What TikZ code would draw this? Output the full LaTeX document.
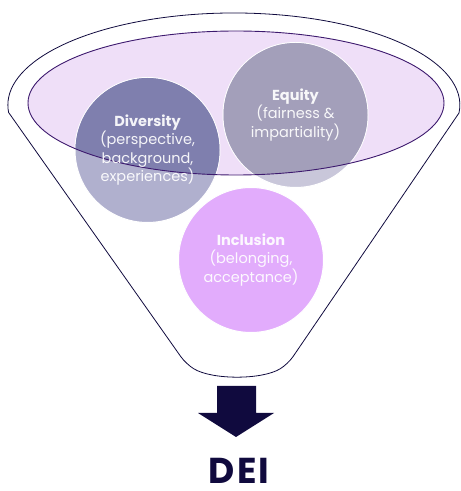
\documentclass[tikz,border=0pt]{standalone}
\usepackage{fontspec}
\setmainfont{Poppins}
\usepackage{tikz}
\usetikzlibrary{positioning, calc}

\definecolor{navy}{HTML}{100A3E}
\definecolor{rimline}{HTML}{3D1A6E}
\definecolor{rimfill}{HTML}{EFDFF8}
\definecolor{divlight}{HTML}{B0B0CE}
\definecolor{divdark}{HTML}{7F7FAE}
\definecolor{eqlight}{HTML}{C9C7DA}
\definecolor{eqdark}{HTML}{A39FBA}
\definecolor{incfill}{HTML}{E2ACFC}

\begin{document}
\begin{tikzpicture}[x=1pt, y=1pt,
    bubble/.style={circle, minimum size=145pt, inner sep=0pt, draw=white, line width=1pt},
    caption/.style={text=white, text opacity=0.92, align=center, font=\fontsize{14.5}{18.3}\selectfont},
    funnel/.style={draw=navy, line width=0.8pt}
]
    \useasboundingbox (0,0) rectangle (461,491);

    % Funnel outline
    \draw[funnel, rounded corners=9pt] (9,378) -- (186,127)
        .. controls (212,111) and (262,111) .. (288,127) -- (459,378);
    \draw[funnel] (459,378) arc[start angle=-5, end angle=185, x radius=226, y radius=92];

    % Rim of the funnel
    \fill[rimfill] (236,388) ellipse[x radius=208, y radius=72];

    % Circles
    \node[bubble, fill=divlight] (diversity) at (147.5,341) {};
    \node[bubble, fill=eqlight] (equity) at (295.5,376) {};
    \node[bubble, fill=incfill] (inclusion) at (251,231) {};

    % Parts of the circles inside the rim
    \begin{scope}
        \clip (236,388) ellipse[x radius=208, y radius=72];
        \fill[divdark] (diversity) circle[radius=72];
        \fill[eqdark] (equity) circle[radius=72];
    \end{scope}
    \draw[rimline, line width=0.9pt] (236,388) ellipse[x radius=208, y radius=72];

    % Labels
    \node[caption] at (diversity) {\textbf{Diversity}\\(perspective,\\background,\\experiences)};
    \node[caption] at (equity) {\textbf{Equity}\\(fairness \&\\impartiality)};
    \node[caption] at (inclusion) {\textbf{Inclusion}\\(belonging,\\acceptance)};

    % Arrow down to the result
    \fill[navy] (217,105) -- (256,105) -- (256,78) -- (274,78) -- (236,54)
        -- (198,78) -- (217,78) -- cycle;
    \node[navy, anchor=base, inner sep=0pt, text depth=0pt,
          font=\fontsize{36}{40}\bfseries\selectfont\addfontfeatures{LetterSpace=6}]
          (dei) at (239,8) {DEI};

\end{tikzpicture}
\end{document}
